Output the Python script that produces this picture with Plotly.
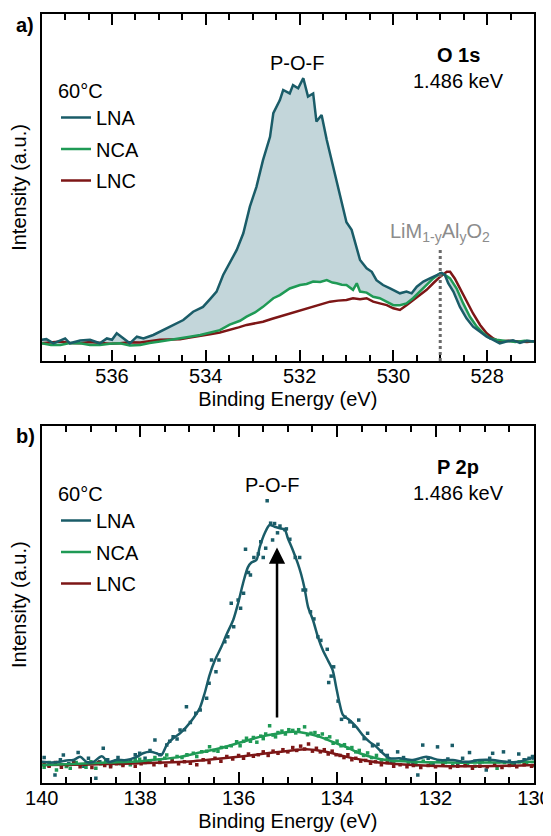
import plotly.graph_objects as go

# ---------------- Panel a: O 1s ----------------
a_lna_e = [537.50, 537.40, 537.25, 537.00, 536.90, 536.68, 536.47, 536.26, 536.11, 536.00,
           535.90, 535.76, 535.62, 535.47, 535.33, 535.12, 534.91, 534.69, 534.48, 534.27,
           534.06, 533.90, 533.77, 533.63, 533.49, 533.34, 533.20, 533.06, 532.92, 532.78,
           532.63, 532.56, 532.42, 532.35, 532.21, 532.14, 532.03, 531.92, 531.82, 531.71,
           531.64, 531.53, 531.42, 531.28, 531.14, 531.00, 530.89, 530.78, 530.71, 530.57,
           530.46, 530.36, 530.22, 530.07, 529.93, 529.86, 529.72, 529.61, 529.50, 529.36,
           529.22, 529.08, 528.97, 528.90, 528.83, 528.72, 528.58, 528.44, 528.30, 528.15,
           528.01, 527.87, 527.73, 527.59, 527.45, 527.30, 527.15, 527.00]
a_lna_v = [0.061, 0.063, 0.051, 0.065, 0.051, 0.059, 0.061, 0.051, 0.065, 0.061,
           0.080, 0.065, 0.051, 0.070, 0.065, 0.075, 0.089, 0.104, 0.118, 0.142,
           0.156, 0.180, 0.200, 0.248, 0.281, 0.320, 0.368, 0.445, 0.502, 0.579,
           0.646, 0.714, 0.752, 0.781, 0.771, 0.795, 0.786, 0.815, 0.762, 0.771,
           0.690, 0.709, 0.637, 0.560, 0.483, 0.400, 0.378, 0.320, 0.291, 0.267,
           0.257, 0.233, 0.219, 0.209, 0.200, 0.195, 0.200, 0.195, 0.214, 0.229,
           0.238, 0.248, 0.254, 0.248, 0.224, 0.200, 0.156, 0.123, 0.099, 0.084,
           0.070, 0.061, 0.051, 0.056, 0.060, 0.052, 0.058, 0.056]

a_nca_e = [537.50, 537.30, 537.10, 536.90, 536.68, 536.47, 536.26, 536.05, 535.83, 535.62,
           535.40, 535.20, 534.98, 534.77, 534.55, 534.34, 534.12, 533.91, 533.70, 533.49,
           533.27, 533.13, 532.95, 532.78, 532.56, 532.42, 532.21, 531.99, 531.85, 531.71,
           531.56, 531.42, 531.30, 531.21, 531.10, 531.00, 530.86, 530.78, 530.71, 530.57,
           530.43, 530.29, 530.14, 530.00, 529.86, 529.72, 529.58, 529.43, 529.29, 529.15,
           529.00, 528.90, 528.79, 528.65, 528.51, 528.37, 528.22, 528.08, 527.94, 527.80,
           527.60, 527.40, 527.20, 527.00]
a_nca_v = [0.051, 0.046, 0.046, 0.052, 0.051, 0.046, 0.046, 0.050, 0.051, 0.045,
           0.046, 0.052, 0.056, 0.060, 0.065, 0.070, 0.075, 0.082, 0.089, 0.105,
           0.116, 0.128, 0.140, 0.156, 0.181, 0.190, 0.209, 0.219, 0.222, 0.229,
           0.228, 0.233, 0.226, 0.224, 0.220, 0.219, 0.205, 0.224, 0.200, 0.197,
           0.185, 0.181, 0.171, 0.161, 0.161, 0.166, 0.181, 0.200, 0.219, 0.238,
           0.253, 0.248, 0.238, 0.209, 0.166, 0.128, 0.099, 0.080, 0.065, 0.061,
           0.058, 0.055, 0.058, 0.056]

a_lnc_e = [537.50, 537.30, 537.10, 536.90, 536.68, 536.47, 536.26, 536.05, 535.83, 535.62,
           535.40, 535.20, 534.98, 534.77, 534.55, 534.34, 534.12, 533.91, 533.70, 533.49,
           533.30, 533.13, 532.95, 532.78, 532.60, 532.42, 532.25, 532.06, 531.90, 531.71,
           531.52, 531.35, 531.18, 531.00, 530.86, 530.71, 530.57, 530.43, 530.29, 530.14,
           530.00, 529.86, 529.72, 529.58, 529.43, 529.29, 529.15, 529.00, 528.86, 528.79,
           528.69, 528.58, 528.44, 528.30, 528.15, 528.01, 527.87, 527.73, 527.55, 527.35,
           527.15, 527.00]
a_lnc_v = [0.051, 0.054, 0.056, 0.052, 0.051, 0.055, 0.053, 0.050, 0.051, 0.054,
           0.053, 0.057, 0.061, 0.062, 0.063, 0.068, 0.072, 0.077, 0.082, 0.089,
           0.097, 0.104, 0.108, 0.113, 0.121, 0.128, 0.134, 0.142, 0.148, 0.156,
           0.163, 0.171, 0.174, 0.176, 0.181, 0.178, 0.181, 0.171, 0.166, 0.161,
           0.152, 0.147, 0.161, 0.176, 0.190, 0.205, 0.224, 0.243, 0.257, 0.257,
           0.238, 0.209, 0.176, 0.137, 0.104, 0.080, 0.065, 0.056, 0.058, 0.057,
           0.055, 0.057]

a_ref_energy = 529.0
a_ref_top = 0.325

a_label_ticks = [536, 534, 532, 530, 528]

# ---------------- Panel b: P 2p ----------------
b_lna_e = [140.00, 139.80, 139.63, 139.50, 139.36, 139.22, 139.09, 138.95, 138.78, 138.65,
           138.48, 138.28, 138.07, 137.94, 137.80, 137.67, 137.57, 137.46, 137.33, 137.19,
           137.06, 136.92, 136.79, 136.69, 136.59, 136.48, 136.35, 136.25, 136.11, 136.01,
           135.91, 135.81, 135.74, 135.64, 135.57, 135.47, 135.37, 135.27, 135.16, 135.06,
           135.00, 134.90, 134.80, 134.73, 134.66, 134.59, 134.49, 134.39, 134.29, 134.19,
           134.09, 134.02, 133.95, 133.88, 133.75, 133.61, 133.48, 133.34, 133.20, 133.07,
           132.93, 132.73, 132.46, 132.19, 131.92, 131.65, 131.38, 131.11, 130.84, 130.57,
           130.30, 130.06, 130.00]
b_lna_v = [0.060, 0.058, 0.060, 0.064, 0.065, 0.074, 0.060, 0.060, 0.076, 0.060,
           0.065, 0.065, 0.074, 0.084, 0.088, 0.084, 0.079, 0.107, 0.126, 0.140,
           0.158, 0.182, 0.210, 0.252, 0.303, 0.345, 0.382, 0.415, 0.457, 0.504,
           0.560, 0.605, 0.618, 0.625, 0.662, 0.700, 0.723, 0.718, 0.714, 0.709,
           0.686, 0.653, 0.616, 0.585, 0.545, 0.494, 0.457, 0.410, 0.373, 0.345,
           0.317, 0.270, 0.224, 0.191, 0.177, 0.158, 0.135, 0.116, 0.102, 0.084,
           0.070, 0.070, 0.065, 0.074, 0.065, 0.065, 0.060, 0.065, 0.065, 0.060,
           0.060, 0.070, 0.068]

b_nca_e = [140.00, 139.36, 138.68, 138.00, 137.60, 137.19, 136.79, 136.38, 135.97, 135.57,
           135.17, 134.90, 134.63, 134.35, 134.09, 133.81, 133.54, 133.27, 133.00, 132.46,
           131.78, 131.11, 130.43, 130.00]
b_nca_v = [0.051, 0.054, 0.058, 0.062, 0.067, 0.074, 0.086, 0.098, 0.114, 0.130,
           0.140, 0.144, 0.140, 0.130, 0.116, 0.101, 0.084, 0.072, 0.065, 0.060,
           0.058, 0.058, 0.059, 0.060]

b_lnc_e = [140.00, 139.36, 138.68, 138.00, 137.33, 136.92, 136.52, 136.11, 135.70, 135.30,
           134.96, 134.63, 134.35, 134.09, 133.81, 133.54, 133.27, 133.00, 132.46, 131.78,
           131.11, 130.43, 130.00]
b_lnc_v = [0.051, 0.052, 0.054, 0.056, 0.059, 0.062, 0.067, 0.073, 0.079, 0.086,
           0.091, 0.095, 0.091, 0.084, 0.074, 0.067, 0.060, 0.056, 0.051, 0.048,
           0.048, 0.049, 0.051]

# raw data points (dots)
b_lna_pts_e = [139.95, 139.85, 139.73, 139.62, 139.56, 139.45, 139.35, 139.26, 139.15, 139.05,
               138.90, 138.82, 138.75, 138.66, 138.55, 138.45, 138.35, 138.20, 138.10, 138.01,
               137.90, 137.80, 137.70, 137.60, 137.46, 137.40, 137.33, 137.25, 137.19, 137.10,
               137.06, 136.98, 136.87, 136.78, 136.65, 136.60, 136.55, 136.46, 136.40, 136.28,
               136.22, 136.15, 136.10, 136.01, 135.96, 135.90, 135.86, 135.80, 135.76, 135.69,
               135.60, 135.55, 135.50, 135.45, 135.42, 135.35, 135.31, 135.27, 135.21, 135.16,
               135.06, 135.03, 134.96, 134.85, 134.76, 134.69, 134.64, 134.54, 134.47, 134.39,
               134.33, 134.20, 134.17, 134.12, 134.07, 133.98, 133.91, 133.84, 133.74, 133.66,
               133.56, 133.45, 133.38, 133.28, 133.17, 133.10, 132.98, 132.90, 132.77, 132.65,
               132.55, 132.46, 132.36, 132.26, 132.15, 132.05, 131.96, 131.85, 131.75, 131.66,
               131.55, 131.45, 131.31, 131.20, 131.10, 130.97, 130.90, 130.84, 130.72, 130.62,
               130.50, 130.40, 130.31, 130.20, 130.10, 130.03]
b_lna_pts_v = [0.072, 0.050, 0.023, 0.066, 0.079, 0.055, 0.062, 0.086, 0.048, 0.070,
               0.014, 0.060, 0.098, 0.066, 0.058, 0.072, 0.054, 0.062, 0.080, 0.084,
               0.070, 0.092, 0.121, 0.080, 0.107, 0.118, 0.130, 0.124, 0.149, 0.150,
               0.214, 0.170, 0.196, 0.205, 0.238, 0.280, 0.345, 0.312, 0.345, 0.396,
               0.410, 0.504, 0.438, 0.513, 0.490, 0.532, 0.655, 0.590, 0.583, 0.632,
               0.642, 0.676, 0.632, 0.658, 0.791, 0.728, 0.681, 0.727, 0.701, 0.720,
               0.710, 0.712, 0.683, 0.632, 0.632, 0.541, 0.541, 0.480, 0.460, 0.410,
               0.400, 0.375, 0.282, 0.300, 0.326, 0.230, 0.179, 0.185, 0.172, 0.160,
               0.177, 0.125, 0.140, 0.105, 0.109, 0.090, 0.078, 0.060, 0.088, 0.072,
               0.060, 0.058, 0.023, 0.107, 0.070, 0.055, 0.102, 0.060, 0.068, 0.106,
               0.056, 0.070, 0.086, 0.062, 0.058, 0.037, 0.070, 0.084, 0.060, 0.088,
               0.062, 0.055, 0.082, 0.066, 0.070, 0.075]

b_nca_pts_e = [139.95, 139.85, 139.70, 139.60, 139.50, 139.42, 139.30, 139.20, 139.10, 139.00,
               138.90, 138.80, 138.70, 138.60, 138.50, 138.40, 138.30, 138.20, 138.10, 138.01,
               137.90, 137.80, 137.70, 137.60, 137.50, 137.46, 137.35, 137.25, 137.15, 137.05,
               136.92, 136.85, 136.75, 136.65, 136.59, 136.50, 136.42, 136.35, 136.25, 136.15,
               136.04, 135.97, 135.90, 135.84, 135.76, 135.70, 135.63, 135.55, 135.50, 135.45,
               135.37, 135.30, 135.25, 135.20, 135.12, 135.05, 134.98, 134.90, 134.84, 134.78,
               134.66, 134.60, 134.53, 134.45, 134.38, 134.30, 134.22, 134.15, 134.08, 134.00,
               133.92, 133.85, 133.78, 133.70, 133.62, 133.55, 133.46, 133.38, 133.30, 133.20,
               133.10, 132.98, 132.85, 132.70, 132.55, 132.40, 132.25, 132.10, 131.95, 131.80,
               131.65, 131.50, 131.35, 131.20, 131.05, 130.90, 130.75, 130.60, 130.45, 130.30,
               130.15, 130.03]
b_nca_pts_v = [0.045, 0.058, 0.037, 0.052, 0.047, 0.042, 0.058, 0.050, 0.045, 0.060,
               0.042, 0.055, 0.060, 0.050, 0.062, 0.055, 0.058, 0.052, 0.066, 0.067,
               0.058, 0.062, 0.072, 0.065, 0.070, 0.079, 0.068, 0.075, 0.072, 0.080,
               0.084, 0.075, 0.088, 0.090, 0.102, 0.092, 0.090, 0.100, 0.101, 0.105,
               0.116, 0.105, 0.118, 0.126, 0.118, 0.128, 0.115, 0.132, 0.125, 0.138,
               0.161, 0.135, 0.130, 0.142, 0.146, 0.138, 0.150, 0.148, 0.141, 0.150,
               0.158, 0.136, 0.140, 0.142, 0.133, 0.138, 0.125, 0.130, 0.112, 0.118,
               0.105, 0.108, 0.098, 0.100, 0.088, 0.092, 0.078, 0.085, 0.072, 0.078,
               0.065, 0.070, 0.060, 0.066, 0.058, 0.052, 0.062, 0.055, 0.062, 0.058,
               0.050, 0.060, 0.055, 0.048, 0.060, 0.062, 0.042, 0.058, 0.052, 0.060,
               0.055, 0.050]

b_lnc_pts_e = [139.95, 139.85, 139.72, 139.60, 139.48, 139.35, 139.22, 139.10, 138.98, 138.85,
               138.72, 138.60, 138.48, 138.35, 138.22, 138.10, 137.98, 137.85, 137.72, 137.60,
               137.48, 137.35, 137.22, 137.10, 136.98, 136.85, 136.72, 136.60, 136.48, 136.36,
               136.24, 136.12, 136.00, 135.90, 135.80, 135.70, 135.60, 135.50, 135.40, 135.30,
               135.20, 135.10, 135.00, 134.90, 134.82, 134.74, 134.66, 134.58, 134.50, 134.42,
               134.34, 134.26, 134.18, 134.10, 134.02, 133.94, 133.86, 133.78, 133.70, 133.62,
               133.52, 133.42, 133.32, 133.22, 133.10, 132.98, 132.85, 132.72, 132.58, 132.45,
               132.30, 132.15, 132.00, 131.85, 131.70, 131.55, 131.40, 131.25, 131.10, 130.95,
               130.80, 130.65, 130.50, 130.35, 130.20, 130.05]
b_lnc_pts_v = [0.055, 0.048, 0.058, 0.045, 0.052, 0.056, 0.046, 0.054, 0.044, 0.058,
               0.050, 0.046, 0.055, 0.050, 0.058, 0.048, 0.055, 0.060, 0.052, 0.058,
               0.050, 0.062, 0.055, 0.060, 0.056, 0.052, 0.066, 0.058, 0.070, 0.062,
               0.075, 0.068, 0.078, 0.070, 0.082, 0.076, 0.080, 0.088, 0.078, 0.090,
               0.084, 0.094, 0.088, 0.100, 0.092, 0.104, 0.096, 0.110, 0.090, 0.098,
               0.088, 0.094, 0.082, 0.090, 0.080, 0.078, 0.072, 0.080, 0.066, 0.070,
               0.062, 0.064, 0.056, 0.060, 0.052, 0.058, 0.048, 0.052, 0.046, 0.050,
               0.044, 0.050, 0.046, 0.052, 0.044, 0.048, 0.050, 0.042, 0.048, 0.046,
               0.052, 0.044, 0.050, 0.046, 0.052, 0.048]

b_label_ticks = [140, 138, 136, 134, 132, 130]

series_names = ['LNA', 'NCA', 'LNC']
colors = {'LNA': '#1a5c68', 'NCA': '#1f9a55', 'LNC': '#7d1616'}
fill_color = '#c3d6da'
FONT = 'Arial, Liberation Sans, sans-serif'

fig = go.Figure()

# ---- panel a ----
fig.add_trace(go.Scatter(x=a_nca_e, y=a_nca_v, mode='lines', line=dict(width=0, color=fill_color),
                         showlegend=False, hoverinfo='skip', xaxis='x', yaxis='y'))
fig.add_trace(go.Scatter(x=a_lna_e, y=a_lna_v, mode='lines', line=dict(width=0, color=fill_color),
                         fill='tonexty', fillcolor=fill_color,
                         showlegend=False, hoverinfo='skip', xaxis='x', yaxis='y'))
a_data = {'LNA': (a_lna_e, a_lna_v), 'NCA': (a_nca_e, a_nca_v), 'LNC': (a_lnc_e, a_lnc_v)}
for name in ['LNC', 'NCA', 'LNA']:
    e, v = a_data[name]
    fig.add_trace(go.Scatter(x=e, y=v, mode='lines', name=name,
                             line=dict(color=colors[name], width=2.5),
                             legend='legend', legendgroup='a' + name,
                             legendrank=series_names.index(name) + 1,
                             xaxis='x', yaxis='y'))

# ---- panel b ----
b_pts = {'LNA': (b_lna_pts_e, b_lna_pts_v), 'NCA': (b_nca_pts_e, b_nca_pts_v),
         'LNC': (b_lnc_pts_e, b_lnc_pts_v)}
b_lines = {'LNA': (b_lna_e, b_lna_v), 'NCA': (b_nca_e, b_nca_v), 'LNC': (b_lnc_e, b_lnc_v)}
for name in ['LNA', 'NCA', 'LNC']:
    e, v = b_pts[name]
    fig.add_trace(go.Scatter(x=e, y=v, mode='markers',
                             marker=dict(symbol='square', size=3.5, color=colors[name]),
                             showlegend=False, hoverinfo='skip', xaxis='x2', yaxis='y2'))
for name in ['LNC', 'NCA', 'LNA']:
    e, v = b_lines[name]
    fig.add_trace(go.Scatter(x=e, y=v, mode='lines', name=name,
                             line=dict(color=colors[name], width=2.5, shape='spline', smoothing=0.8),
                             legend='legend2', legendgroup='b' + name,
                             legendrank=series_names.index(name) + 1,
                             xaxis='x2', yaxis='y2'))

W, H = 551, 836
OFF = 8  # page body margin; screen px -> figure px

def px_x(s):
    return (s - OFF) / W

def px_y(s):
    return 1 - (s - OFF) / H

xdom = [px_x(41.7), px_x(534)]
ya_dom = [px_y(361), px_y(14)]
yb_dom = [px_y(783.3), px_y(426)]

def xaxis(rng, tv, dom, anchor):
    return dict(domain=dom, range=rng, anchor=anchor, tickmode='array', tickvals=tv,
                ticks='inside', ticklen=11, tickwidth=1.8, tickcolor='black',
                minor=dict(dtick=0.5, tick0=0, ticks='inside', ticklen=6, tickwidth=1.5, tickcolor='black'),
                showline=True, linecolor='black', linewidth=2, mirror='ticks',
                showgrid=False, zeroline=False, automargin=False, ticklabelstandoff=-4,
                tickfont=dict(family=FONT, size=20, color='black'),
                title=dict(text='Binding Energy (eV)', font=dict(family=FONT, size=20, color='black'), standoff=6))

def xaxis_mid(rng, dom, overlay, anchor):
    # unlabeled 1 eV ticks of intermediate length
    return dict(domain=dom, range=rng, anchor=anchor, overlaying=overlay, tickmode='linear', tick0=0, dtick=1,
                ticks='inside', ticklen=9, tickwidth=1.6, tickcolor='black', showticklabels=False,
                showline=False, mirror='ticks', showgrid=False, zeroline=False, automargin=False)

def yaxis(dom, anchor):
    return dict(domain=dom, range=[0, 1], anchor=anchor, showticklabels=False, ticks='',
                showline=True, linecolor='black', linewidth=2, mirror=True,
                showgrid=False, zeroline=False, automargin=False,
                title=dict(text='Intensity (a.u.)', font=dict(family=FONT, size=20, color='black'), standoff=8))

legend_common = dict(bgcolor='rgba(0,0,0,0)', borderwidth=0, xanchor='left', yanchor='top',
                     font=dict(family=FONT, size=20, color='black'), tracegroupgap=2.5,
                     title=dict(text='60°C', font=dict(family=FONT, size=20, color='black')))

def txt(x, y, text, xref, yref, size=20, color='black', bold=False):
    return dict(x=x, y=y, xref=xref, yref=yref, text=('<b>%s</b>' % text) if bold else text,
                showarrow=False, font=dict(family=FONT, size=size, color=color),
                xanchor='center', yanchor='middle')

px_per_ev_b = (534 - 41.7) / 10
label_x_b = 140 - (458 - 41.7) / px_per_ev_b

annotations = [
    txt(px_x(25), px_y(25), 'a)', 'paper', 'paper', bold=True),
    txt(px_x(25), px_y(436), 'b)', 'paper', 'paper', bold=True),
    txt(532.05, 0.86, 'P-O-F', 'x', 'y'),
    txt(528.62, 0.882, 'O 1s', 'x', 'y', bold=True),
    txt(528.62, 0.807, '1.486 keV', 'x', 'y'),
    txt(529.0, 0.37, 'LiM<sub>1-y</sub>Al<sub>y</sub>O<sub>2</sub>', 'x', 'y', color='#8c8c8c'),
    txt(135.33, 0.835, 'P-O-F', 'x2', 'y2'),
    txt(label_x_b, (783.3 - 467) / 357.3, 'P 2p', 'x2', 'y2', bold=True),
    txt(label_x_b, (783.3 - 493) / 357.3, '1.486 keV', 'x2', 'y2'),
    dict(x=135.22, y=0.66, ax=135.22, ay=0.18, xref='x2', yref='y2', axref='x2', ayref='y2',
         showarrow=True, arrowhead=2, arrowsize=1.3, arrowwidth=2.5, arrowcolor='black', text=''),
]

fig.update_layout(
    width=W, height=H, margin=dict(l=0, r=0, t=0, b=0, autoexpand=False),
    paper_bgcolor='white', plot_bgcolor='white',
    font=dict(family=FONT, size=20, color='black'),
    xaxis=xaxis([537.5, 527], a_label_ticks, xdom, 'y'),
    yaxis=yaxis(ya_dom, 'x'),
    xaxis2=xaxis([140, 130], b_label_ticks, xdom, 'y2'),
    yaxis2=yaxis(yb_dom, 'x2'),
    xaxis3=xaxis_mid([537.5, 527], xdom, 'x', 'y'),
    xaxis4=xaxis_mid([140, 130], xdom, 'x2', 'y2'),
    legend=dict(x=px_x(56), y=px_y(72), **legend_common),
    legend2=dict(x=px_x(56), y=px_y(475), **legend_common),
    annotations=annotations,
    shapes=[dict(type='line', xref='x', yref='y', x0=a_ref_energy, x1=a_ref_energy, y0=0, y1=a_ref_top,
                 line=dict(color='#6a6a6a', width=3, dash='dot'))],
    showlegend=True,
)

fig.write_html('out.html')
